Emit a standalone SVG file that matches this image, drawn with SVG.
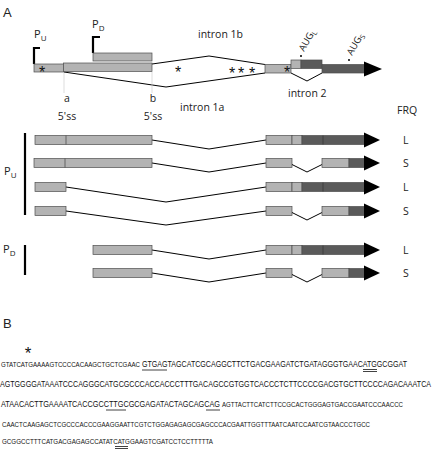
<svg xmlns="http://www.w3.org/2000/svg" width="432" height="450" viewBox="0 0 432 450">
<style>
.lt{fill:#b3b3b3;stroke:#4d4d4d;stroke-width:0.7}
.dk{fill:#5a5a5a;stroke:#4d4d4d;stroke-width:0.7}
.hd{fill:#000}
.ln{fill:none;stroke:#000;stroke-width:1}
.lbl{font-family:"Open Sans","Liberation Sans",sans-serif;font-size:10.5px;fill:#222}
.big{font-family:"Liberation Sans",Arial,sans-serif;font-size:13px;fill:#222}
.ast{font-family:"Liberation Sans",Arial,sans-serif;font-size:16px;fill:#111;text-anchor:middle}
.seq{font-family:"Liberation Sans",Arial,sans-serif;font-size:9.5px;fill:#111}
.sq2{font-family:"Liberation Sans",Arial,sans-serif;font-size:8px;fill:#111}
.ul{stroke:#111;stroke-width:0.8}
.bar{stroke:#000;stroke-width:2.2;fill:none}
</style>
<defs>
<g id="rightL">
<rect class="lt" x="266" y="-4.5" width="26" height="9"/>
<rect class="lt" x="292" y="-4.5" width="10" height="9"/>
<rect class="dk" x="302" y="-4.5" width="63" height="9"/>
<line x1="323" y1="-4.5" x2="323" y2="4.5" stroke="#333" stroke-width="0.7"/>
<polygon class="hd" points="364,-7.5 380,0 364,7.5"/>
</g>
<g id="rightS">
<rect class="lt" x="266" y="-4.5" width="26" height="9"/>
<polyline class="ln" points="292,1.5 307,9 322,1.5"/>
<rect class="lt" x="322" y="-4.5" width="27" height="9"/>
<rect class="dk" x="349" y="-4.5" width="16" height="9"/>
<polygon class="hd" points="364,-7.5 380,0 364,7.5"/>
</g>
</defs>

<text class="big" x="3" y="17">A</text>
<text class="big" x="3" y="328">B</text>

<g id="connectors">
<polyline class="ln" points="152,64 209,56 265,64.5"/>
<polyline class="ln" points="64,72 166,87 265,73"/>
<polyline class="ln" points="291,73 307,81 322,73"/>
<line x1="64" y1="73" x2="64" y2="93" stroke="#c8c8c8" stroke-width="0.6"/>
<line x1="152" y1="72" x2="152" y2="93" stroke="#c8c8c8" stroke-width="0.6"/>
<polyline class="ln" points="152,140 209,149 266,140"/>
<polyline class="ln" points="152,163 209,172 266,163"/>
<polyline class="ln" points="66,187 166,202 266,187"/>
<polyline class="ln" points="66,211 166,225 266,211"/>
<polyline class="ln" points="152,250 209,259 266,250"/>
<polyline class="ln" points="152,273 209,282 266,273"/>
</g>

<g id="gene-model">
<path class="bar" d="M34,64 V48 H40"/>
<text class="lbl" x="34" y="38" style="font-size:11px">P<tspan dy="3" style="font-size:8px">U</tspan></text>
<path class="bar" d="M93,53 V37 H100"/>
<text class="lbl" x="92" y="28" style="font-size:11px">P<tspan dy="3" style="font-size:8px">D</tspan></text>
<rect class="lt" x="34" y="64" width="30" height="8"/>
<rect class="lt" x="63.5" y="63" width="88.5" height="8.5"/>
<rect class="lt" x="93" y="53" width="59" height="8"/>
<rect class="lt" x="265" y="64.5" width="26" height="8.5"/>
<rect class="lt" x="291" y="60" width="10" height="8.5"/>
<rect class="dk" x="301" y="60" width="21" height="8.5"/>
<rect class="dk" x="322" y="64.5" width="43" height="8.5"/>
<polygon class="hd" points="364,61.5 382,69 364,76.5"/>
<circle cx="301" cy="56" r="1" fill="#000"/>
<text class="lbl" transform="translate(304,52) rotate(-60)" style="font-size:9.5px">AUG<tspan dy="2" style="font-size:7px">L</tspan></text>
<circle cx="349" cy="60" r="1" fill="#000"/>
<text class="lbl" transform="translate(352,56) rotate(-60)" style="font-size:9.5px">AUG<tspan dy="2" style="font-size:7px">S</tspan></text>
<text class="ast" x="42" y="78">*</text>
<text class="ast" x="178" y="78">*</text>
<text class="ast" x="232" y="79">*</text>
<text class="ast" x="241" y="79">*</text>
<text class="ast" x="252" y="79">*</text>
<text class="ast" x="287" y="78">*</text>
<text class="lbl" x="198" y="38">intron 1b</text>
<text class="lbl" x="180" y="111">intron 1a</text>
<text class="lbl" x="288" y="97">intron 2</text>
<text class="lbl" x="67" y="102" text-anchor="middle">a</text>
<text class="lbl" x="67" y="120" text-anchor="middle">5'ss</text>
<text class="lbl" x="153" y="102" text-anchor="middle">b</text>
<text class="lbl" x="153" y="120" text-anchor="middle">5'ss</text>
<text class="lbl" x="397" y="114">FRQ</text>
</g>

<g id="PU-group">
<line class="bar" x1="25" y1="133" x2="25" y2="215"/>
<text class="lbl" x="4" y="175" style="font-size:11px">P<tspan dy="3" style="font-size:8px">U</tspan></text>
</g>
<g id="PD-group">
<line class="bar" x1="25" y1="245" x2="25" y2="275"/>
<text class="lbl" x="3" y="253" style="font-size:11px">P<tspan dy="3" style="font-size:8px">D</tspan></text>
</g>

<g id="row1">
<rect class="lt" x="35" y="135.5" width="117" height="9"/>
<line x1="66" y1="135.5" x2="66" y2="144.5" stroke="#444" stroke-width="0.7"/>
<use href="#rightL" transform="translate(0,140)"/>
<text class="lbl" x="403" y="143.5">L</text>
</g>
<g id="row2">
<rect class="lt" x="34" y="158.5" width="118" height="9"/>
<line x1="65" y1="158.5" x2="65" y2="167.5" stroke="#444" stroke-width="0.7"/>
<use href="#rightS" transform="translate(0,163)"/>
<text class="lbl" x="403" y="166.5">S</text>
</g>
<g id="row3">
<rect class="lt" x="35" y="182.5" width="31" height="9"/>
<use href="#rightL" transform="translate(0,187)"/>
<text class="lbl" x="403" y="190.5">L</text>
</g>
<g id="row4">
<rect class="lt" x="35" y="206.5" width="31" height="9"/>
<use href="#rightS" transform="translate(0,211)"/>
<text class="lbl" x="403" y="214.5">S</text>
</g>
<g id="row5">
<rect class="lt" x="93" y="245.5" width="59" height="9"/>
<use href="#rightL" transform="translate(0,250)"/>
<text class="lbl" x="403" y="253.5">L</text>
</g>
<g id="row6">
<rect class="lt" x="93" y="268.5" width="59" height="9"/>
<use href="#rightS" transform="translate(0,273)"/>
<text class="lbl" x="403" y="276.5">S</text>
</g>

<g id="sequence">
<text class="ast" x="28" y="359" style="font-size:17px">*</text>
<text class="sq2" x="1" y="367" textLength="139" lengthAdjust="spacingAndGlyphs">GTATCATGAAAAGTCCCCACAAGCTGCTCGAAC</text>
<text class="seq" x="142" y="367" textLength="265" lengthAdjust="spacingAndGlyphs">GTGAGTAGCATCGCAGGCTTCTGACGAAGATCTGATAGGGTGAACATGGCGGAT</text>
<line class="ul" x1="142" y1="370" x2="167" y2="370"/>
<line class="ul" x1="363" y1="369.5" x2="377" y2="369.5"/>
<line class="ul" x1="363" y1="371.5" x2="377" y2="371.5"/>
<text class="seq" x="0" y="387" textLength="431" lengthAdjust="spacingAndGlyphs">AGTGGGGATAAATCCCAGGGCATGCGCCCACCACCCTTTGACAGCCGTGGTCACCCTCTTCCCCGACGTGCTTCCCCAGACAAATCA</text>
<text class="seq" x="1" y="407" textLength="219" lengthAdjust="spacingAndGlyphs">ATAACACTTGAAAATCACCGCCTTGCGCGAGATACTAGCAGCAG</text>
<text class="sq2" x="222" y="407" textLength="181" lengthAdjust="spacingAndGlyphs">AGTTACTTCATCTTCCGCACTGGGAGTGACCGAATCCCAACCC</text>
<line class="ul" x1="106" y1="410" x2="126" y2="410"/>
<line class="ul" x1="206" y1="410" x2="220" y2="410"/>
<text class="sq2" x="2" y="427" textLength="368" lengthAdjust="spacingAndGlyphs">CAACTCAAGAGCTCGCCCACCCGAAGGAATTCGTCTGGAGAGAGCGAGCCCACGAATTGGTTTAATCAATCCAATCGTAACCCTGCC</text>
<text class="sq2" x="2" y="444" textLength="211" lengthAdjust="spacingAndGlyphs">GCGGCCTTTCATGACGAGAGCCATATCATGGAAGTCGATCCTCCTTTTTA</text>
<line class="ul" x1="115" y1="446.5" x2="128" y2="446.5"/>
<line class="ul" x1="115" y1="448.5" x2="128" y2="448.5"/>
</g>
</svg>
